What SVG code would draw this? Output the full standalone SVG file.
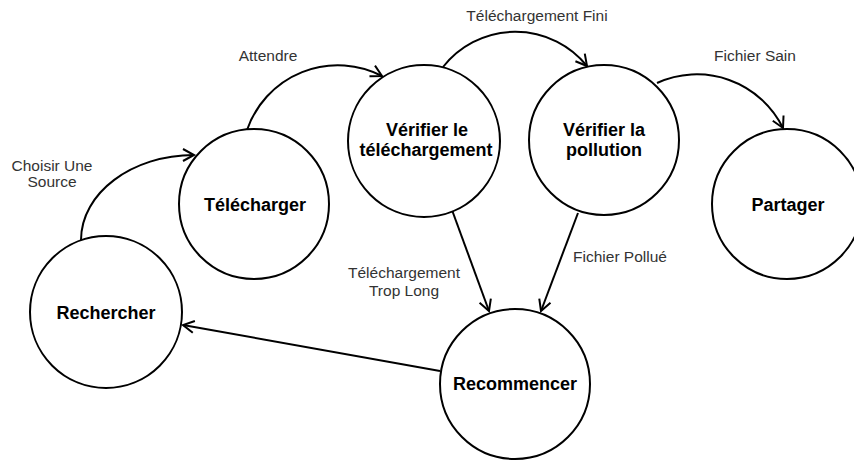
<svg xmlns="http://www.w3.org/2000/svg" width="854" height="460" viewBox="0 0 854 460">
<style>
.node circle{fill:#fff;stroke:#000;stroke-width:2}
.node text{font-family:"Liberation Sans",Arial,sans-serif;font-size:18px;font-weight:bold;fill:#000;text-anchor:middle}
.edge{fill:none;stroke:#000;stroke-width:2;marker-end:url(#arr)}
.lbl{font-family:"Liberation Sans",Arial,sans-serif;font-size:15.5px;fill:#333;text-anchor:middle}
</style>
<defs>
<marker id="arr" markerUnits="userSpaceOnUse" markerWidth="20" markerHeight="20" refX="0" refY="0" orient="auto" overflow="visible">
<path d="M-11,-6 L0,0 L-11,6" fill="none" stroke="#000" stroke-width="2"/>
</marker>
</defs>
<rect width="854" height="460" fill="#fff"/>
<g id="connectors">
<path class="edge" d="M81,240 C81,193 132,155 194,155"/>
<path class="edge" d="M247,130 A96,96 0 0 1 382,76"/>
<path class="edge" d="M443,67 A92,92 0 0 1 587,66"/>
<path class="edge" d="M657,83 A96,96 0 0 1 783,128"/>
<path class="edge" d="M452,210 L489,311"/>
<path class="edge" d="M578,213 L541,311"/>
<path class="edge" d="M440,371 L183,325"/>
<text class="lbl" x="52" y="171">Choisir Une</text>
<text class="lbl" x="52" y="187">Source</text>
<text class="lbl" x="268" y="61">Attendre</text>
<text class="lbl" x="537" y="21">Téléchargement Fini</text>
<text class="lbl" x="755" y="61">Fichier Sain</text>
<text class="lbl" x="404" y="278">Téléchargement</text>
<text class="lbl" x="404" y="296">Trop Long</text>
<text class="lbl" x="620" y="262">Fichier Pollué</text>
</g>
<g id="rechercher" class="node"><circle cx="106" cy="312" r="76"/><text x="106" y="318.5">Rechercher</text></g>
<g id="telecharger" class="node"><circle cx="254" cy="204" r="75"/><text x="255" y="211">Télécharger</text></g>
<g id="verifier-telechargement" class="node"><circle cx="424" cy="141" r="76"/><text x="427" y="136">Vérifier le</text><text x="426" y="156">téléchargement</text></g>
<g id="verifier-pollution" class="node"><circle cx="604" cy="140" r="75"/><text x="604" y="136">Vérifier la</text><text x="604" y="156">pollution</text></g>
<g id="partager" class="node"><circle cx="787" cy="204" r="75"/><text x="788" y="211">Partager</text></g>
<g id="recommencer" class="node"><circle cx="515" cy="384" r="75"/><text x="515" y="389.5">Recommencer</text></g>
</svg>
